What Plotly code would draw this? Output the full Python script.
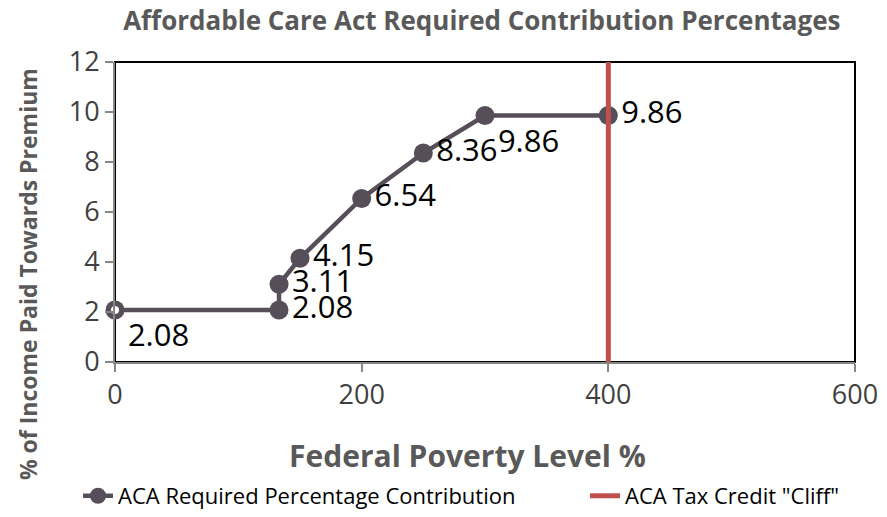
import plotly.graph_objects as go

fpl = [0, 133, 133, 150, 200, 250, 300, 400]
contribution = [2.08, 2.08, 3.11, 4.15, 6.54, 8.36, 9.86, 9.86]
cliff_x = [400, 400]
cliff_y = [0, 12]

x_ticks = [0, 200, 400, 600]
y_ticks = [0, 2, 4, 6, 8, 10, 12]

line_col = "#564F5A"
red = "#C0504D"
font = "Open Sans"

label_pos = ["bottom right", "middle right", "middle right", "middle right",
             "middle right", "middle right", "bottom right", "middle right"]

fig = go.Figure()

fig.add_trace(go.Scatter(
    x=fpl, y=contribution, mode="lines+markers+text",
    name="ACA Required Percentage Contribution", legend="legend",
    line=dict(color=line_col, width=4.5),
    marker=dict(symbol="circle", size=19, color=line_col),
    text=[f"{v:.2f}" for v in contribution],
    textposition=label_pos,
    textfont=dict(family=font, size=31, color="black"),
    cliponaxis=False,
))
# first point is drawn hollow
fig.add_trace(go.Scatter(
    x=fpl[:1], y=contribution[:1], mode="markers", showlegend=False,
    marker=dict(symbol="circle", size=13, color="white", line=dict(color=line_col, width=5)),
    cliponaxis=False,
))
fig.add_trace(go.Scatter(
    x=cliff_x, y=cliff_y, mode="lines", name='ACA Tax Credit "Cliff"', legend="legend2",
    line=dict(color=red, width=5),
))

fig.add_shape(type="rect", xref="paper", yref="paper", x0=0, x1=1, y0=0, y1=1,
              line=dict(color="black", width=2), layer="below")

fig.add_annotation(text="<b>Federal Poverty Level %</b>", xref="paper", yref="paper",
                   x=0.477, y=0, yshift=-93, xanchor="center", yanchor="middle",
                   showarrow=False, font=dict(family=font, size=30, color="#595959"))
fig.add_annotation(text="<b>% of Income Paid Towards Premium</b>", xref="paper", yref="paper",
                   x=0, xshift=-87, y=0.293, xanchor="center", yanchor="middle", textangle=-90,
                   showarrow=False, font=dict(family=font, size=23, color="#595959"))

leg_font = dict(family=font, size=22, color="black")

fig.update_layout(
    width=871, height=501,
    margin=dict(l=107, r=24, t=54, b=147),
    plot_bgcolor="white", paper_bgcolor="white",
    font=dict(family=font),
    title=dict(text="<b>Affordable Care Act Required Contribution Percentages</b>",
               x=0.544, xanchor="center", y=0.974, yanchor="middle",
               font=dict(family=font, size=26, color="#595959")),
    xaxis=dict(range=[0, 600], tickvals=x_ticks, showgrid=False, zeroline=False,
               showline=True, linecolor="#868686", linewidth=2, automargin=False,
               ticks="outside", ticklen=8, tickcolor="#868686", tickwidth=2,
               tickfont=dict(family=font, size=27, color="#404040")),
    yaxis=dict(range=[0, 12], tickvals=y_ticks, showgrid=False, zeroline=False,
               showline=True, linecolor="#868686", linewidth=2, automargin=False,
               ticks="outside", ticklen=8, tickcolor="#868686", tickwidth=2,
               tickfont=dict(family=font, size=27, color="#404040")),
    legend=dict(orientation="h", xref="container", yref="container",
                x=0.0804, xanchor="left", y=0.026, yanchor="middle",
                font=leg_font, bgcolor="rgba(0,0,0,0)"),
    legend2=dict(orientation="h", xref="container", yref="container",
                 x=0.6625, xanchor="left", y=0.026, yanchor="middle",
                 font=leg_font, bgcolor="rgba(0,0,0,0)"),
    showlegend=True,
)

fig.write_html("out.html")
